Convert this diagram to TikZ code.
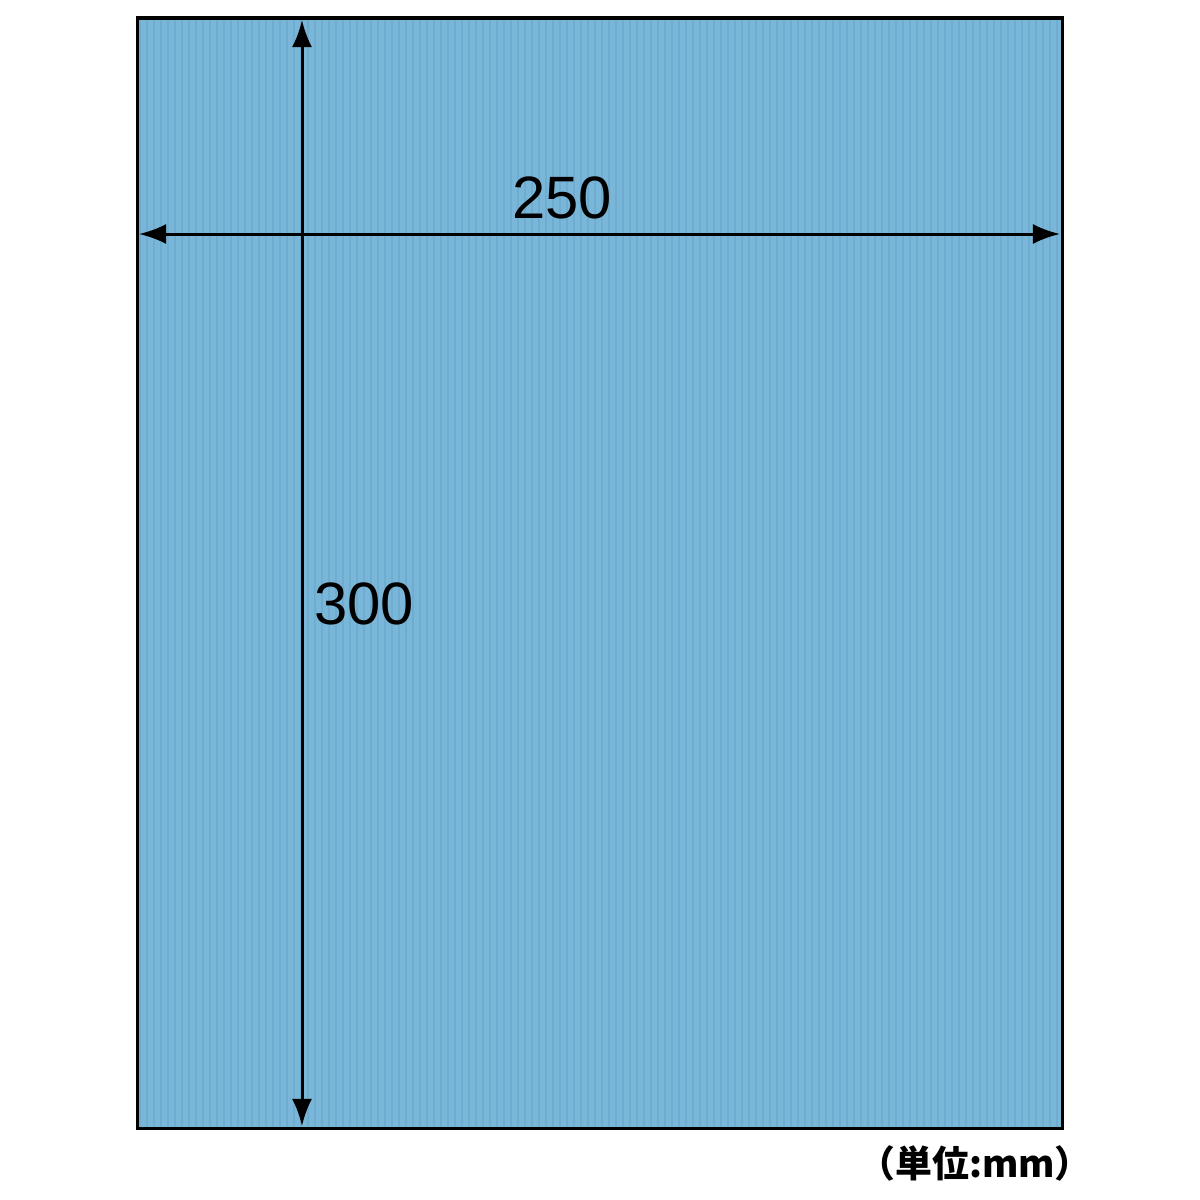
\documentclass[tikz,border=0pt]{standalone}
\usepackage{fontspec}
\setmainfont{Liberation Sans}
\newfontfamily\jpfont{Noto Sans CJK JP}
\usetikzlibrary{arrows.meta}

\definecolor{feuille}{RGB}{122,182,216}
\definecolor{rayure}{RGB}{102,164,204}

\tikzset{cote/.style = {line width=0.03cm,
                        {Latex[length=0.27cm,width=0.2cm]}-{Latex[length=0.27cm,width=0.2cm]}},
         chiffre/.style = {font=\fontsize{17}{20}\selectfont},
         unite/.style = {font=\jpfont\bfseries\fontsize{10.5}{12}\selectfont}
        }

\begin{document}
\begin{tikzpicture}[x=0.01cm,y=-0.01cm]
  \useasboundingbox[fill=white] (0,0) rectangle (1200,1200);
  \fill[feuille] (137,18) rectangle (1062,1128);
  % rayures verticales
  \foreach \x in {140,147,...,1060}
    \draw[rayure,line width=0.015cm,opacity=0.5] (\x,19) -- (\x,1127);
  \draw[line width=0.03cm] (137,18) rectangle (1062,1128);
  \coordinate (haut) at (302,20);
  \coordinate (bas) at (302,1126);
  \coordinate (gauche) at (139,234);
  \coordinate (droite) at (1060,234);
  \draw[cote] (gauche) -- (droite);
  \draw[cote] (haut) -- (bas);
  \node[chiffre] (largeur) at (562,198) {250};
  \node[chiffre] (hauteur) at (364,604) {300};
  \node[unite] (legende) at (975,1163) {（単位:mm）};
\end{tikzpicture}
\end{document}
